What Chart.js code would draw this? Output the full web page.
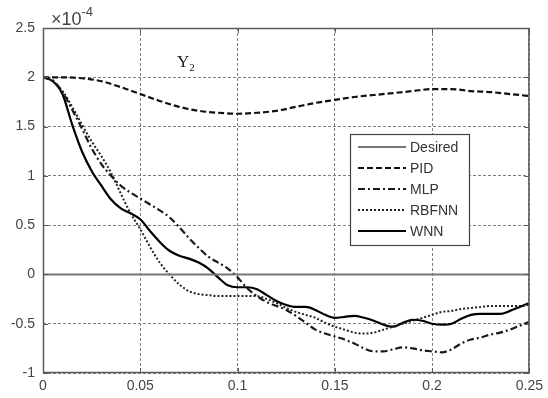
<!DOCTYPE html>
<html><head><meta charset="utf-8">
<script src="https://cdn.jsdelivr.net/npm/chart.js@4/dist/chart.umd.min.js"></script>
<style>html,body{margin:0;padding:0;background:#fff}#wrap{width:548px;height:398px;position:relative}</style>
</head><body><div id="wrap"><canvas id="c" width="548" height="398"></canvas></div>
<script>
// ---- data (values in units of 1e-4) ----
const timeSteps = [0,0.005,0.01,0.015,0.02,0.025,0.03,0.035,0.04,0.045,0.05,0.055,0.06,0.065,0.07,0.075,0.08,0.085,0.09,0.095,0.1,0.105,0.11,0.115,0.12,0.125,0.13,0.135,0.14,0.145,0.15,0.155,0.16,0.165,0.17,0.175,0.18,0.185,0.19,0.195,0.2,0.205,0.21,0.215,0.22,0.225,0.23,0.235,0.24,0.245,0.25];
const pidTimes = [0,0.01,0.02,0.03,0.04,0.05,0.06,0.07,0.08,0.09,0.1,0.11,0.12,0.13,0.14,0.15,0.16,0.17,0.18,0.19,0.2,0.21,0.22,0.23,0.24,0.25];
const desiredTimes = [0,0.25];
const desiredValues = [0,0];
const pidValues = [2.0,2.0,1.99,1.96,1.90,1.83,1.76,1.70,1.66,1.64,1.63,1.64,1.66,1.70,1.74,1.77,1.80,1.82,1.84,1.86,1.88,1.88,1.86,1.85,1.83,1.81];
const mlpValues = [2,1.97,1.85,1.67,1.48,1.28,1.12,1.0,0.9,0.83,0.77,0.71,0.65,0.58,0.48,0.37,0.27,0.18,0.12,0.06,-0.03,-0.14,-0.22,-0.28,-0.32,-0.36,-0.42,-0.49,-0.56,-0.60,-0.63,-0.66,-0.70,-0.75,-0.78,-0.78,-0.76,-0.74,-0.75,-0.77,-0.78,-0.79,-0.76,-0.70,-0.66,-0.64,-0.61,-0.59,-0.56,-0.52,-0.48];
const rbfnnValues = [2,1.96,1.86,1.70,1.52,1.35,1.20,1.03,0.82,0.62,0.46,0.28,0.12,0.0,-0.10,-0.17,-0.20,-0.21,-0.22,-0.22,-0.22,-0.22,-0.22,-0.25,-0.29,-0.34,-0.38,-0.41,-0.44,-0.49,-0.53,-0.56,-0.59,-0.60,-0.59,-0.56,-0.53,-0.50,-0.47,-0.44,-0.41,-0.38,-0.37,-0.35,-0.34,-0.33,-0.32,-0.32,-0.32,-0.32,-0.31];
const wnnValues = [2,1.96,1.83,1.52,1.25,1.05,0.9,0.76,0.67,0.62,0.56,0.44,0.33,0.24,0.19,0.16,0.12,0.06,-0.03,-0.11,-0.13,-0.13,-0.15,-0.21,-0.27,-0.31,-0.33,-0.33,-0.36,-0.41,-0.44,-0.43,-0.42,-0.44,-0.47,-0.51,-0.53,-0.49,-0.46,-0.47,-0.50,-0.51,-0.50,-0.45,-0.41,-0.40,-0.40,-0.40,-0.37,-0.33,-0.29];
const seriesNames = ['Desired','PID','MLP','RBFNN','WNN'];
const xTickValues = [0,0.05,0.1,0.15,0.2,0.25];
const xTickLabels = ['0','0.05','0.1','0.15','0.2','0.25'];
const yTickValues = [-1,-0.5,0,0.5,1,1.5,2,2.5];
const yTickLabels = ['-1','-0.5','0','0.5','1','1.5','2','2.5'];
const scaleExponentBase = '\u00d710';
const scaleExponent = '-4';
const panelTitle = 'Y';
const panelTitleSub = '2';

const pts = (xs, ys) => xs.map((x, i) => ({x: x, y: ys[i]}));

const styles = [
  {color:'#777777', width:2, dash:[]},
  {color:'#111111', width:2.2, dash:[6,3]},
  {color:'#1a1a1a', width:2.2, dash:[7,3,2,3]},
  {color:'#222222', width:2, dash:[2,2]},
  {color:'#000000', width:2.2, dash:[]}
];
const dataSets = [pts(desiredTimes, desiredValues), pts(pidTimes, pidValues), pts(timeSteps, mlpValues), pts(timeSteps, rbfnnValues), pts(timeSteps, wnnValues)];

const decor = {
  id: 'decor',
  afterDraw(chart) {
    const ctx = chart.ctx, a = chart.chartArea;
    const xs = chart.scales.x, ys = chart.scales.y;
    ctx.save();
    // frame
    ctx.strokeStyle = '#5a5a5a'; ctx.lineWidth = 1.5; ctx.setLineDash([]);
    ctx.strokeRect(a.left + 0.5, a.top + 0.5, a.right - a.left - 1, a.bottom - a.top - 1);
    // inward ticks
    ctx.lineWidth = 1;
    ctx.beginPath();
    xTickValues.forEach(v => {
      const p = Math.round(xs.getPixelForValue(v)) + 0.5;
      ctx.moveTo(p, a.bottom); ctx.lineTo(p, a.bottom - 5);
      ctx.moveTo(p, a.top); ctx.lineTo(p, a.top + 5);
    });
    yTickValues.forEach(v => {
      const p = Math.round(ys.getPixelForValue(v)) + 0.5;
      ctx.moveTo(a.left, p); ctx.lineTo(a.left + 5, p);
      ctx.moveTo(a.right, p); ctx.lineTo(a.right - 5, p);
    });
    ctx.stroke();
    // exponent label
    ctx.fillStyle = '#444';
    ctx.textBaseline = 'alphabetic'; ctx.textAlign = 'left';
    ctx.font = '18px "Liberation Sans", Arial, sans-serif';
    ctx.fillText(scaleExponentBase, 51, 25);
    const w = ctx.measureText(scaleExponentBase).width;
    ctx.font = '13px "Liberation Sans", Arial, sans-serif';
    ctx.fillText(scaleExponent, 51 + w, 16);
    // panel title
    ctx.fillStyle = '#222';
    ctx.font = '17px "Liberation Serif", "Times New Roman", serif';
    ctx.fillText(panelTitle, 177, 67);
    const tw = ctx.measureText(panelTitle).width;
    ctx.font = '11px "Liberation Serif", "Times New Roman", serif';
    ctx.fillText(panelTitleSub, 177 + tw, 71);
    // legend box
    const bx = 350, by = 134, bw = 119, bh = 111;
    ctx.fillStyle = '#fff';
    ctx.fillRect(bx, by, bw, bh);
    ctx.strokeStyle = '#444'; ctx.lineWidth = 1.2;
    ctx.strokeRect(bx + 0.5, by + 0.5, bw, bh);
    ctx.font = '14px "Liberation Sans", Arial, sans-serif';
    ctx.textBaseline = 'middle';
    chart.data.datasets.forEach((ds, i) => {
      const y = 147 + i * 21;
      ctx.beginPath();
      ctx.strokeStyle = ds.borderColor; ctx.lineWidth = ds.borderWidth;
      ctx.setLineDash(ds.borderDash || []);
      ctx.moveTo(358, y); ctx.lineTo(406, y); ctx.stroke();
      ctx.setLineDash([]);
      ctx.fillStyle = '#333';
      ctx.fillText(ds.label, 410, y + 1);
    });
    ctx.restore();
  }
};

new Chart(document.getElementById('c'), {
  type: 'line',
  data: {
    datasets: seriesNames.map((n, i) => ({
      label: n, data: dataSets[i],
      borderColor: styles[i].color, borderWidth: styles[i].width, borderDash: styles[i].dash,
      pointRadius: 0, fill: false, cubicInterpolationMode: 'monotone'
    }))
  },
  options: {
    responsive: false, animation: false, devicePixelRatio: 1,
    layout: {padding: {top: 28, right: 17, left: 0, bottom: 0}},
    plugins: {legend: {display: false}, tooltip: {enabled: false}},
    scales: {
      x: {
        type: 'linear', min: 0, max: 0.25,
        afterBuildTicks: s => { s.ticks = xTickValues.map(v => ({value: v})); },
        afterFit: s => { s.height = 25; },
        ticks: {color: '#444', font: {family: '"Liberation Sans", Arial, sans-serif', size: 14}, padding: 5, maxRotation: 0,
          callback: (v, i) => xTickLabels[i]},
        grid: {color: '#7f7f7f', lineWidth: 1, drawTicks: false, borderDash: [3,2]},
        border: {display: false, dash: [3,2]}
      },
      y: {
        type: 'linear', min: -1, max: 2.5,
        afterBuildTicks: s => { s.ticks = yTickValues.map(v => ({value: v})); },
        afterFit: s => { s.width = 43; },
        ticks: {color: '#444', font: {family: '"Liberation Sans", Arial, sans-serif', size: 14}, padding: 8,
          callback: (v, i) => yTickLabels[i]},
        grid: {color: '#7f7f7f', lineWidth: 1, drawTicks: false, borderDash: [3,2]},
        border: {display: false, dash: [3,2]}
      }
    }
  },
  plugins: [decor]
});
</script>
</body></html>
